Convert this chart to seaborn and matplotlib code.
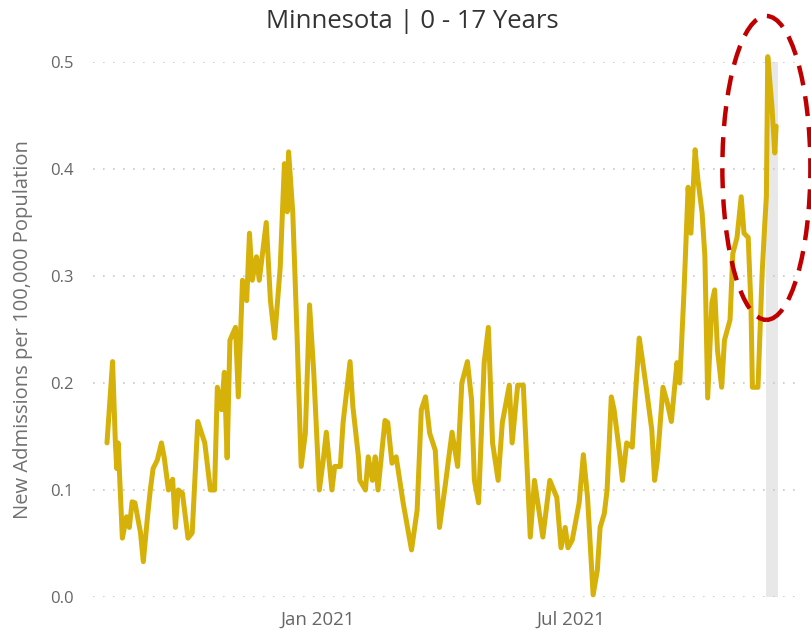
import matplotlib
matplotlib.use("Agg")
import matplotlib.pyplot as plt
import matplotlib.dates as mdates
from matplotlib.patches import Ellipse
import pandas as pd
import seaborn as sns

# daily rate, day = days since start_date
start_date = "2020-08-03"
day = [0, 4, 6, 7, 8, 11, 14, 16, 18, 20, 24, 26, 29, 31, 33, 36, 39, 41, 44, 47,
       49, 51, 54, 58, 61, 65, 70, 74, 77, 79, 82, 84, 86, 88, 92, 94, 97, 100, 102, 104,
       107, 109, 114, 117, 120, 124, 127, 129, 130, 133, 136, 139, 142, 145, 148, 152, 155, 157, 161, 163,
       167, 169, 174, 176, 180, 181, 185, 187, 190, 192, 194, 199, 201, 204, 207, 212, 218, 222, 225, 228,
       231, 235, 238, 242, 247, 251, 254, 258, 261, 263, 266, 270, 273, 276, 280, 283, 288, 290, 294, 298,
       303, 306, 312, 317, 322, 325, 328, 330, 333, 338, 341, 344, 348, 351, 353, 356, 358, 361, 363, 367,
       369, 372, 376, 378, 381, 383, 386, 390, 392, 394, 398, 401, 404, 408, 410, 413, 416, 418, 421, 423,
       426, 428, 430, 433, 435, 437, 440, 442, 446, 448, 451, 454, 456, 459, 461, 462, 466, 469, 471, 472,
       473, 476, 478, 479]
rate = [0.144, 0.22, 0.144, 0.12, 0.144, 0.055, 0.075, 0.065, 0.089, 0.088, 0.06, 0.033, 0.075, 0.10, 0.12, 0.128, 0.144, 0.13, 0.10, 0.11,
        0.065, 0.10, 0.097, 0.055, 0.06, 0.164, 0.144, 0.10, 0.10, 0.196, 0.175, 0.21, 0.13, 0.24, 0.252, 0.187, 0.296, 0.277, 0.34, 0.296,
        0.318, 0.296, 0.35, 0.277, 0.242, 0.308, 0.405, 0.36, 0.416, 0.359, 0.247, 0.122, 0.153, 0.273, 0.21, 0.10, 0.13, 0.154, 0.10, 0.122,
        0.122, 0.163, 0.22, 0.178, 0.131, 0.109, 0.10, 0.131, 0.109, 0.131, 0.10, 0.165, 0.163, 0.125, 0.131, 0.088, 0.044, 0.081, 0.175, 0.187,
        0.153, 0.137, 0.065, 0.103, 0.154, 0.122, 0.20, 0.22, 0.184, 0.109, 0.088, 0.219, 0.252, 0.144, 0.109, 0.163, 0.198, 0.144, 0.198, 0.198,
        0.056, 0.109, 0.056, 0.109, 0.093, 0.046, 0.065, 0.046, 0.053, 0.088, 0.133, 0.093, 0.002, 0.025, 0.065, 0.078, 0.10, 0.187, 0.175, 0.134,
        0.109, 0.144, 0.14, 0.184, 0.242, 0.224, 0.196, 0.156, 0.109, 0.128, 0.196, 0.182, 0.164, 0.219, 0.20, 0.284, 0.383, 0.34, 0.418, 0.39,
        0.359, 0.318, 0.186, 0.275, 0.287, 0.231, 0.196, 0.24, 0.259, 0.321, 0.336, 0.374, 0.34, 0.336, 0.271, 0.196, 0.196, 0.303, 0.352, 0.374,
        0.505, 0.458, 0.415, 0.44]

x_range = ["2020-07-24", "2021-12-12"]
highlight = ["2021-11-18", "2021-11-26"]
ticks = ["2021-01-01", "2021-07-01"]
tick_labels = ["Jan 2021", "Jul 2021"]

df = pd.DataFrame({"date": pd.to_datetime(start_date) + pd.to_timedelta(day, unit="D"),
                   "rate": rate})

sns.set_theme(style="white")
plt.rcParams["font.family"] = ["Open Sans", "DejaVu Sans"]

fig = plt.figure(figsize=(8.11, 6.3), dpi=100)
ax = fig.add_axes([0.1147, 0.0524, 0.8716, 0.8492])

ax.axvspan(pd.to_datetime(highlight[0]), pd.to_datetime(highlight[1]), color="#e8e8e8", zorder=0, lw=0)
sns.lineplot(data=df, x="date", y="rate", ax=ax, color="#D6B10A", lw=3.6, clip_on=False, zorder=3)

ax.set_xlim(pd.to_datetime(x_range[0]), pd.to_datetime(x_range[1]))
ax.set_ylim(0, 0.5)
ax.set_yticks([0, 0.1, 0.2, 0.3, 0.4, 0.5])
ax.set_yticklabels(["0.0", "0.1", "0.2", "0.3", "0.4", "0.5"])
ax.set_xticks(pd.to_datetime(ticks))
ax.set_xticklabels(tick_labels)
ax.tick_params(axis="x", colors="#666666", labelsize=13.5, length=0, pad=10)
ax.tick_params(axis="y", colors="#666666", labelsize=12, length=0, pad=14)
ax.grid(axis="y", color="#c8c8c8", linestyle=(0, (1, 5)), lw=1.2)
ax.grid(axis="x", visible=False)
for s in ax.spines.values():
    s.set_visible(False)

ax.set_xlabel("")
ax.set_ylabel("New Admissions per 100,000 Population", color="#707070", fontsize=14.5, labelpad=12)
fig.text(412 / 811, 1 - 21 / 630, "Minnesota | 0 - 17 Years", color="#333333", fontsize=18.5,
         ha="center", va="center")

# red dashed callout round the latest peak
cx = mdates.date2num(pd.to_datetime(highlight[0]))
ell = Ellipse((cx, 0.401), 63, 0.284, fill=False, edgecolor="#C00000", lw=3.2,
              linestyle=(0, (4.5, 2.5)), clip_on=False, zorder=5)
ax.add_patch(ell)

fig.savefig("out.png", dpi=100)
